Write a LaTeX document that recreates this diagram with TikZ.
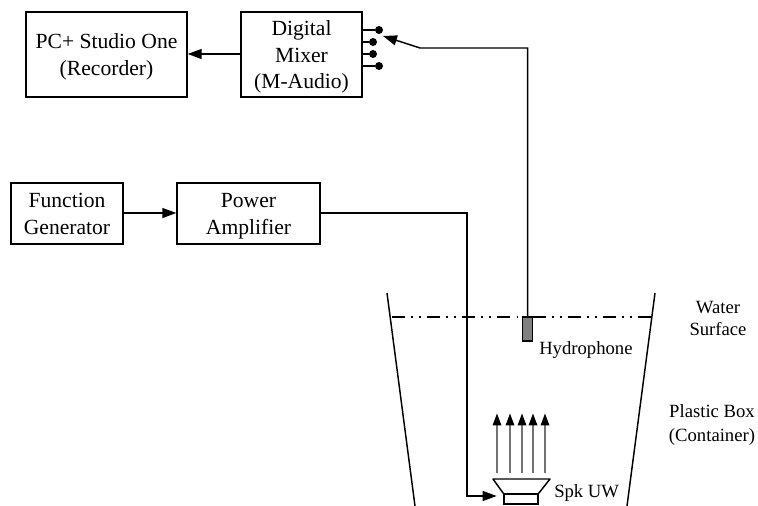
\documentclass[tikz,border=0pt]{standalone}
\usepackage{fontspec}
\setmainfont{Liberation Serif}
\usetikzlibrary{arrows.meta}
\newcommand{\boxlines}[1]{\raisebox{-6.1pt}[0pt][0pt]{\begin{tabular}{@{}c@{}}#1\end{tabular}}}
\tikzset{
 conn/.style={line width=1.1pt,-{Triangle[length=10.5pt,width=7.5pt]}},
 wire/.style={line width=1.1pt},
 boxn/.style={draw,line width=1.1pt,inner sep=0pt,font=\fontsize{16.2}{20}\selectfont},
 lab/.style={align=center,inner sep=0pt,font=\fontsize{14}{17}\selectfont},
 ray/.style={line width=.9pt,draw=black!55,-{Triangle[length=9pt,width=6.5pt,black]}},
 dot/.style={circle,fill=black,inner sep=0pt,minimum size=6pt},
}
\begin{document}
\begin{tikzpicture}[x=.75pt,y=-.75pt]
\useasboundingbox (0,0) rectangle (758,506);
\node[boxn,minimum width=120.75pt,minimum height=63.75pt] (pc) at (106.5,54.5) {\boxlines{PC+ Studio One\\(Recorder)}};
\node[boxn,minimum width=90.75pt,minimum height=63.75pt] (mix) at (301.5,54.5) {\boxlines{Digital\\Mixer\\(M-Audio)}};
\node[boxn,minimum width=84pt,minimum height=45.75pt] (fg) at (67,213.5) {\boxlines{Function\\Generator}};
\node[boxn,minimum width=107.25pt,minimum height=45.75pt] (pa) at (248.5,213.5) {\boxlines{Power\\Amplifier}};
\draw[conn] (mix.west |- 0,54) -- (pc.east |- 0,54);
\draw[conn] (fg.east |- 0,213) -- (pa.west |- 0,213);
\node[dot] (c1) at (379,30) {};
\node[dot] (c2) at (373,42) {};
\node[dot] (c3) at (373,54) {};
\node[dot] (c4) at (379,66) {};
\draw[wire] (mix.east |- c1) -- (c1);
\draw[wire] (mix.east |- c2) -- (c2);
\draw[wire] (mix.east |- c3) -- (c3);
\draw[wire] (mix.east |- c4) -- (c4);
\node[draw,fill=black!50,line width=.8pt,minimum width=7.5pt,minimum height=18pt,inner sep=0pt] (hyd) at (527.7,329) {};
\coordinate (tip) at (383,36);
\draw[conn] (hyd.north) -- (527.7,48) -- (420,48) -- (tip);
\draw[wire,dash pattern=on 9.75pt off 4.6pt on 1.4pt off 4.6pt on 1.4pt off 4.6pt] (392,317) -- (652,317);
\draw[wire] (387,293) -- (415,506);
\draw[wire] (655,293) -- (627,506);
\node[draw,line width=1.1pt,minimum width=25.5pt,minimum height=7.5pt,inner sep=0pt] (base) at (521,499) {};
\coordinate (sl) at (493,479);
\coordinate (sr) at (550,479);
\draw[wire,line join=round] (base.north west) -- (sl) -- (sr) -- (base.north east);
\draw[conn,shorten >=5pt] (pa.east |- 0,213) -- (467,213) -- (467,496) -- (base.west |- 0,496);
\foreach \x in {497,510,522,533,545} \draw[ray] (\x,473) -- (\x,413.5);
\node[lab,anchor=west] (t1) at (539,350) {Hydrophone};
\node[lab,anchor=west] (t2) at (554,493) {Spk UW};
\node[lab,font=\fontsize{14}{16.5}\selectfont] (t3) at (718,318) {Water\\Surface};
\node[lab,font=\fontsize{14}{18}\selectfont] (t4) at (712,425) {Plastic Box\\(Container)};
\end{tikzpicture}
\end{document}
